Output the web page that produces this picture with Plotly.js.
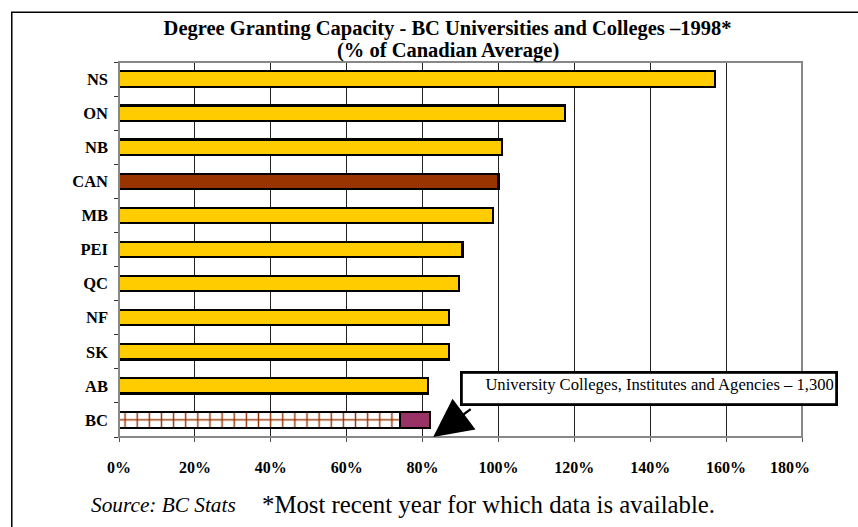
<!DOCTYPE html>
<html>
<head>
<meta charset="utf-8">
<script src="https://cdn.plot.ly/plotly-3.0.1.min.js"></script>
<style>
  html, body { margin: 0; padding: 0; background: #fff; }
  #chart { width: 858px; height: 527px; }
</style>
</head>
<body>
<div id="chart"></div>
<script>
// Degree granting capacity, % of the Canadian average (1998)
const provinces = ['NS', 'ON', 'NB', 'CAN', 'MB', 'PEI', 'QC', 'NF', 'SK', 'AB'];
const capacity = [157, 117.5, 101, 100, 98.5, 90.5, 89.5, 87, 87, 81.5];

// BC is split into universities/colleges and the university colleges, institutes and agencies
const bcLabel = 'BC';
const bcUniversities = 74;
const bcUCIA = 8;

const xTickVals = [0, 20, 40, 60, 80, 100, 120, 140, 160, 180];
// the last label is padded so it sits inside the frame
const xTickText = ['0%', '20%', '40%', '60%', '80%', '100%', '120%', '140%', '160%',
                   '180%\u00a0\u00a0\u00a0\u00a0\u00a0\u00a0'];
const categoryOrder = ['BC', 'AB', 'SK', 'NF', 'QC', 'PEI', 'MB', 'CAN', 'NB', 'ON', 'NS'];

const YELLOW = '#FFCC00';
const BROWN = '#993300';
const PLUM = '#993366';
const serif = 'Liberation Serif, Times New Roman, serif';

const barColors = provinces.map(p => (p === 'CAN' ? BROWN : YELLOW));

const traces = [
  {
    type: 'bar', orientation: 'h',
    y: provinces, x: capacity,
    marker: { color: barColors, line: { color: '#000', width: 2.2 } },
    hoverinfo: 'x+y'
  },
  {
    type: 'bar', orientation: 'h',
    y: [bcLabel], x: [bcUniversities],
    marker: {
      color: '#fff',
      line: { color: '#000', width: 2.2 },
      pattern: { shape: '+', fgcolor: BROWN, bgcolor: '#fff', size: 12.13, solidity: 0.22 }
    }
  },
  {
    type: 'bar', orientation: 'h',
    y: [bcLabel], x: [bcUCIA],
    marker: { color: PLUM, line: { color: '#000', width: 2.2 } }
  }
];

const layout = {
  width: 858, height: 527,
  margin: { l: 119, r: 56, t: 62, b: 90 },
  paper_bgcolor: '#fff', plot_bgcolor: '#fff',
  showlegend: false,
  barmode: 'stack',
  bargap: 0.55,
  title: {
    text: 'Degree Granting Capacity - BC Universities and Colleges \u20131998*',
    font: { family: serif, size: 20.5, color: '#000', weight: 'bold' },
    x: 0.481, xref: 'paper', xanchor: 'center',
    y: 0.948, yref: 'container', yanchor: 'middle'
  },
  xaxis: {
    range: [0, 180],
    tickvals: xTickVals, ticktext: xTickText,
    tickfont: { family: serif, size: 16, color: '#000', weight: 'bold' },
    ticks: 'outside', ticklen: 4, tickcolor: '#555',
    ticklabelstandoff: 12,
    showgrid: true, gridcolor: '#222', gridwidth: 1,
    showline: false, zeroline: false, fixedrange: true
  },
  yaxis: {
    type: 'category',
    categoryorder: 'array', categoryarray: categoryOrder,
    tickfont: { family: serif, size: 16.5, color: '#000', weight: 'bold' },
    ticks: 'outside', ticklen: 4, tickcolor: '#333',
    tickson: 'boundaries',
    ticklabelstandoff: 10,
    showgrid: false, showline: false, zeroline: false, fixedrange: true
  },
  shapes: [
    // plot frame
    { type: 'rect', xref: 'paper', yref: 'paper', x0: 0, x1: 1, y0: 0, y1: 1,
      line: { color: '#888', width: 2 }, layer: 'above' },
    // outer chart border
    { type: 'rect', xref: 'paper', yref: 'paper',
      x0: -0.157, x1: 1.09, y0: -0.3, y1: 1.133,
      line: { color: '#000', width: 1.5 } }
  ],
  annotations: [
    {
      // second title line
      xref: 'paper', yref: 'paper', x: 0.481, y: 1.03,
      xanchor: 'center', yanchor: 'middle', showarrow: false,
      text: '<b>(% of Canadian Average)</b>',
      font: { family: serif, size: 20.5, color: '#000' }
    },
    {
      xref: 'x', yref: 'paper', x: 139.7, y: 0.129,
      text: 'University Colleges, Institutes and Agencies \u2013 1,300',
      showarrow: false,
      font: { family: serif, size: 16.6, color: '#000' },
      xanchor: 'center', yanchor: 'middle',
      width: 370, height: 27, align: 'right', valign: 'top',
      bordercolor: '#000', borderwidth: 2.8, borderpad: 1, bgcolor: '#fff'
    },
    {
      xref: 'x', yref: 'paper', x: 82.8, y: 0.0,
      text: '', showarrow: true,
      arrowhead: 2, arrowsize: 3.2, arrowwidth: 2.4, arrowcolor: '#000',
      axref: 'pixel', ayref: 'pixel', ax: 39, ay: -29, standoff: 0
    },
    {
      xref: 'paper', yref: 'paper', x: -0.044, y: -0.18,
      xanchor: 'left', yanchor: 'middle', showarrow: false,
      text: '<i>Source: BC Stats</i>',
      font: { family: serif, size: 21.3, color: '#000' }
    },
    {
      xref: 'paper', yref: 'paper', x: 0.207, y: -0.18,
      xanchor: 'left', yanchor: 'middle', showarrow: false,
      text: '*Most recent year for which data is available.',
      font: { family: serif, size: 24.8, color: '#000' }
    }
  ]
};

Plotly.newPlot('chart', traces, layout, { displayModeBar: false, staticPlot: true });
</script>
</body>
</html>
